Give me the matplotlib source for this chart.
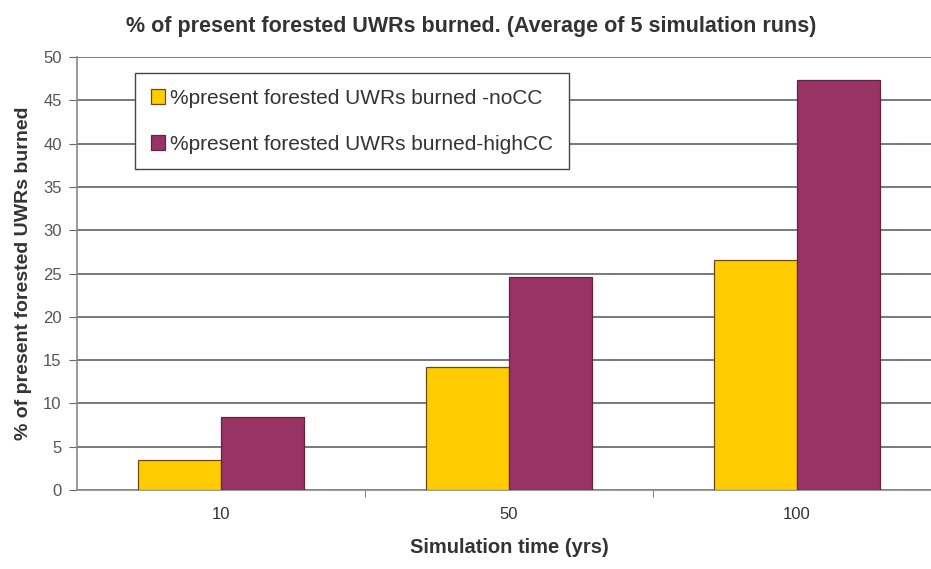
import matplotlib
matplotlib.use("Agg")
import matplotlib.pyplot as plt
import numpy as np

plt.rcParams["font.family"] = ["Liberation Sans", "DejaVu Sans"]

years = ["10", "50", "100"]
no_cc = [3.5, 14.2, 26.6]
high_cc = [8.4, 24.6, 47.3]
series_labels = ["%present forested UWRs burned -noCC", "%present forested UWRs burned-highCC"]

fig = plt.figure(figsize=(9.31, 5.69), dpi=100)
ax = fig.add_axes([0.0827, 0.1388, 0.928, 0.761])

x = np.arange(len(years))
w = 0.288
ax.bar(x - w / 2, no_cc, w, color="#FFCC00", edgecolor="#6b4a1a", lw=0.9, label=series_labels[0], zorder=3)
ax.bar(x + w / 2, high_cc, w, color="#993366", edgecolor="#5e2540", lw=0.9, label=series_labels[1], zorder=3)

ax.set_xlim(-0.5, len(years) - 0.5)
ax.set_ylim(0, 50)
ax.set_yticks(range(0, 51, 5))
ax.set_xticks(x)
ax.set_xticklabels(years)
ax.set_xticks(x[:-1] + 0.5, minor=True)
ax.tick_params(axis="x", which="major", length=0, pad=12, labelsize=12, labelcolor="#333333")
ax.tick_params(axis="x", which="minor", length=5, color="#666666", direction="out")
ax.tick_params(axis="y", length=6, color="#666666", labelsize=12, labelcolor="#555555", pad=5)

ax.yaxis.grid(True, color="#555555", lw=1.1, zorder=0)
for side in ["top", "right"]:
    ax.spines[side].set_visible(False)
for side in ["left", "bottom"]:
    ax.spines[side].set_color("#888888")
    ax.spines[side].set_linewidth(1.2)

ax.set_xlabel("Simulation time (yrs)", fontsize=14.5, fontweight="bold", color="#333333", labelpad=12)
ax.set_ylabel("% of present forested UWRs burned", fontsize=14, fontweight="bold", color="#333333", labelpad=8)
fig.text(0.506, 0.953, "% of present forested UWRs burned. (Average of 5 simulation runs)",
         ha="center", va="center", fontsize=15.5, fontweight="bold", color="#333333")

leg = ax.legend(loc="upper left", bbox_to_anchor=(0.067, 0.963), borderaxespad=0, fontsize=15,
                frameon=True, fancybox=False, edgecolor="#444444", framealpha=1, handlelength=0.68,
                handleheight=0.68, handletextpad=0.25, labelspacing=1.3, borderpad=0.75, labelcolor="#333333")
leg.get_frame().set_linewidth(1.0)

fig.savefig("out.png", dpi=100)
